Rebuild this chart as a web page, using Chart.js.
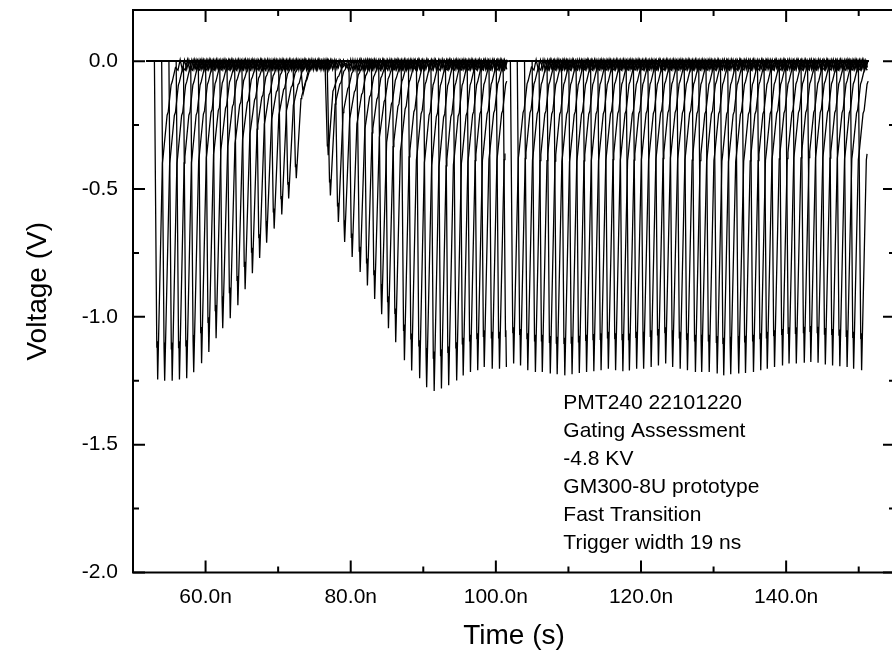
<!DOCTYPE html>
<html>
<head>
<meta charset="utf-8">
<title>PMT240 gating assessment</title>
<script src="https://cdn.jsdelivr.net/npm/chart.js@4.4.1/dist/chart.umd.min.js"></script>
<style>
  html, body { margin: 0; padding: 0; background: #fff; overflow: hidden; }
  #wrap { width: 896px; height: 650px; }
</style>
</head>
<body>
<div id="wrap"><canvas id="scope" width="896" height="650"></canvas></div>
<script>
// Record 1 (51.9 - 101.6 ns): pulse peak time (ns) and peak voltage (V)
const peakTime1 = [53.4, 54.4, 55.4, 56.4, 57.4, 58.4, 59.45, 60.45, 61.45, 62.4,
  63.4, 64.45, 65.45, 66.45, 67.45, 68.45, 69.45, 70.5, 71.45, 72.5, 73.5,
  76.9, 77.2, 78.3, 79.2, 80.2, 81.3, 82.3, 83.3, 84.3, 85.2, 86.2, 87.4, 88.4,
  89.5, 90.5, 91.5, 92.5, 93.5, 94.6, 95.5, 96.5, 97.5, 98.4, 99.5, 100.5, 101.45];
const peakVolt1 = [-1.245, -1.25, -1.25, -1.245, -1.24, -1.217, -1.182, -1.138, -1.084, -1.045,
  -1.006, -0.955, -0.892, -0.83, -0.77, -0.71, -0.655, -0.60, -0.537, -0.458, -0.12,
  -0.368, -0.525, -0.629, -0.707, -0.766, -0.825, -0.877, -0.93, -0.99, -1.045, -1.099, -1.17, -1.21,
  -1.24, -1.275, -1.29, -1.28, -1.268, -1.249, -1.229, -1.216, -1.209, -1.196, -1.203, -1.203, -1.196];

// Record 2 (101.8 - 151.3 ns)
const peakTime2 = [102.45, 103.4, 104.4, 105.45, 106.4, 107.5, 108.45, 109.5, 110.5, 111.5,
  112.5, 113.5, 114.5, 115.5, 116.5, 117.5, 118.4, 119.4, 120.4, 121.4,
  122.4, 123.4, 124.4, 125.4, 126.4, 127.5, 128.4, 129.4, 130.5, 131.4,
  132.4, 133.5, 134.4, 135.5, 136.5, 137.4, 138.4, 139.5, 140.4, 141.4,
  142.5, 143.4, 144.4, 145.4, 146.4, 147.4, 148.4, 149.3, 150.4];
const peakVolt2 = [-1.183, -1.19, -1.209, -1.216, -1.216, -1.222, -1.225, -1.229, -1.225, -1.22,
  -1.216, -1.213, -1.209, -1.203, -1.209, -1.213, -1.21, -1.203, -1.203, -1.196,
  -1.19, -1.183, -1.196, -1.203, -1.209, -1.216, -1.216, -1.216, -1.222, -1.229,
  -1.225, -1.222, -1.22, -1.216, -1.209, -1.203, -1.196, -1.19, -1.183, -1.183,
  -1.18, -1.177, -1.18, -1.186, -1.19, -1.193, -1.196, -1.203, -1.209];

const recordStart = [51.9, 101.8];
const recordEnd = [101.6, 151.3];

// Pulse shape: time from peak (ns) and level as a fraction of the peak
const shapeDt = [-0.45, -0.12, -0.07, 0, 0.65, 0.75, 1.3, 1.45, 1.85, 2.0, 2.45];
const shapeLevel = [0, 0.9, 0.88, 1, 0.32, 0.3, 0.17, 0.16, 0.075, 0.065, 0.02];
// Ringing after each pulse: time from peak (ns) and voltage (V)
const ringDt = [2.8, 3.1, 3.4, 3.7, 4.0, 4.3, 4.6, 4.9, 5.2, 5.5, 5.8, 6.1, 6.4, 6.7];
const ringVolt = [-0.035, 0.006, -0.034, 0.005, -0.032, 0.005, -0.03, 0.004, -0.028, 0.004, -0.025, 0.003, -0.02, 0];

const xMajor = [60, 80, 100, 120, 140];
const xMinor = [70, 90, 110, 130, 150];
const yMajor = [0, -0.5, -1.0, -1.5, -2.0];
const yMinor = [-0.25, -0.75, -1.25, -1.75];

const noteLines = ['PMT240 22101220', 'Gating Assessment', '-4.8 KV',
  'GM300-8U prototype', 'Fast Transition', 'Trigger width 19 ns'];

const FONT = '"Liberation Sans", Arial, sans-serif';

// One scope trace per pulse: flat baseline, the pulse, ringing, back to baseline.
// A pulse cut by the end of its record simply stops there.
function buildTrace(tPeak, vPeak, start, end) {
  const pts = [{ x: start, y: 0 }];
  shapeDt.forEach((dt, i) => pts.push({ x: tPeak + dt, y: vPeak * shapeLevel[i] }));
  ringDt.forEach((dt, i) => pts.push({ x: tPeak + dt, y: ringVolt[i] }));
  const inside = pts.filter(p => p.x >= start && p.x <= end);
  if (inside.length === pts.length) inside.push({ x: end, y: 0 });
  return inside;
}

const datasets = [];
[[peakTime1, peakVolt1], [peakTime2, peakVolt2]].forEach(([times, volts], r) => {
  times.forEach((t, i) => {
    datasets.push({
      data: buildTrace(t, volts[i], recordStart[r], recordEnd[r]),
      borderColor: '#000',
      borderWidth: 1.3,
      pointRadius: 0,
      tension: 0,
      fill: false
    });
  });
});

// Frame, inward ticks on all four sides and the text block
const frameTicks = {
  id: 'frameTicks',
  afterDraw(chart) {
    const { ctx, chartArea: a, scales: { x, y } } = chart;
    ctx.save();
    ctx.strokeStyle = '#000';
    ctx.lineWidth = 2;
    ctx.strokeRect(a.left, a.top, a.right - a.left, a.bottom - a.top);
    ctx.beginPath();
    const xTick = (v, len) => {
      const px = x.getPixelForValue(v);
      ctx.moveTo(px, a.bottom); ctx.lineTo(px, a.bottom - len);
      ctx.moveTo(px, a.top); ctx.lineTo(px, a.top + len);
    };
    const yTick = (v, len) => {
      const py = y.getPixelForValue(v);
      ctx.moveTo(a.left, py); ctx.lineTo(a.left + len, py);
      ctx.moveTo(a.right, py); ctx.lineTo(a.right - len, py);
    };
    xMajor.forEach(v => xTick(v, 12));
    xMinor.forEach(v => xTick(v, 6));
    yMajor.forEach(v => yTick(v, 12));
    yMinor.forEach(v => yTick(v, 6));
    ctx.stroke();

    ctx.fillStyle = '#000';
    ctx.font = '21px ' + FONT;
    ctx.textAlign = 'left';
    ctx.textBaseline = 'alphabetic';
    const nx = x.getPixelForValue(109.3);
    const ny = y.getPixelForValue(-1.36);
    noteLines.forEach((line, i) => ctx.fillText(line, nx, ny + i * 28));
    ctx.restore();
  }
};

new Chart(document.getElementById('scope'), {
  type: 'line',
  data: { datasets },
  options: {
    responsive: false,
    animation: false,
    events: [],
    parsing: false,
    normalized: true,
    layout: { padding: { top: 10, right: 1, left: 0, bottom: 0 } },
    plugins: { legend: { display: false }, tooltip: { enabled: false } },
    scales: {
      x: {
        type: 'linear',
        min: 50,
        max: 155,
        afterBuildTicks: s => { s.ticks = xMajor.map(v => ({ value: v })); },
        afterFit: s => { s.height = 77.5; s.paddingLeft = 0; s.paddingRight = 0; },
        grid: { display: false, drawTicks: false },
        border: { display: false },
        ticks: {
          color: '#000',
          font: { family: FONT, size: 21 },
          padding: 12,
          maxRotation: 0,
          autoSkip: false,
          callback: v => v.toFixed(1) + 'n'
        },
        title: {
          display: true,
          text: 'Time (s)',
          color: '#000',
          font: { family: FONT, size: 28 },
          padding: { top: 0, bottom: -3 }
        }
      },
      y: {
        type: 'linear',
        min: -2.0,
        max: 0.2,
        afterBuildTicks: s => { s.ticks = yMajor.map(v => ({ value: v })); },
        afterFit: s => { s.width = 133; s.paddingTop = 0; s.paddingBottom = 0; },
        grid: { display: false, drawTicks: false },
        border: { display: false },
        ticks: {
          color: '#000',
          font: { family: FONT, size: 21 },
          padding: 15,
          autoSkip: false,
          callback: v => v.toFixed(1)
        },
        title: {
          display: true,
          text: 'Voltage (V)',
          color: '#000',
          font: { family: FONT, size: 28 },
          padding: { top: 21, bottom: 0 }
        }
      }
    }
  },
  plugins: [frameTicks]
});
</script>
</body>
</html>
